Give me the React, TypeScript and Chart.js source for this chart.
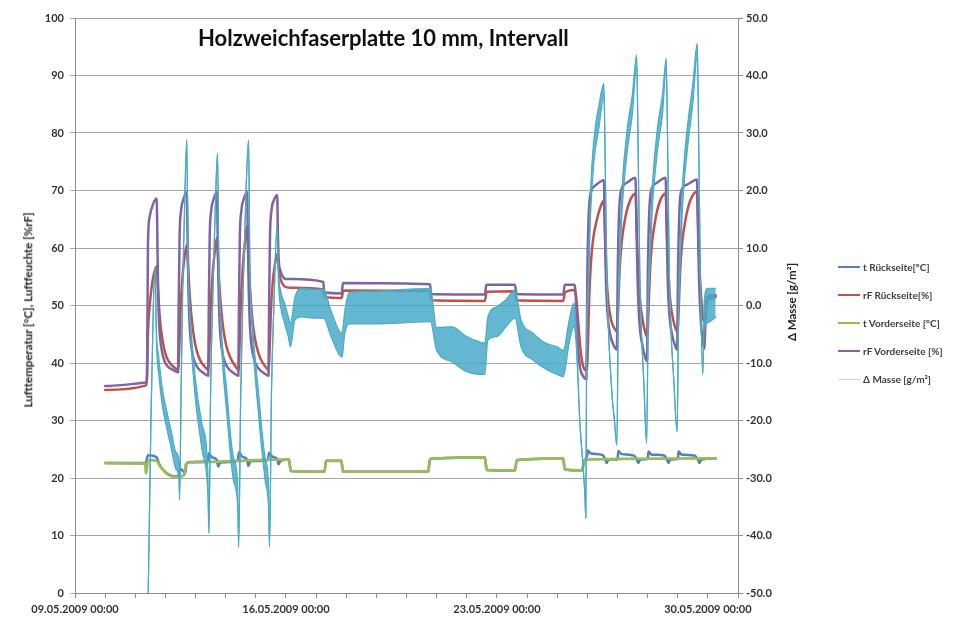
import React, { useEffect, useRef } from "react";
import { Chart, registerables } from "chart.js";

Chart.register(...registerables);

// ---------- labels ----------
const chartTitle = "Holzweichfaserplatte 10 mm, Intervall";
const leftAxisTitle = "Lufttemperatur [°C], Luftfeuchte [%rF]";
const rightAxisTitle = "\u0394 Masse [g/m\u00B2]";
const xTickLabels = ["09.05.2009 00:00", "16.05.2009 00:00", "23.05.2009 00:00", "30.05.2009 00:00"];
const seriesNames = ["t Rückseite[°C]", "rF Rückseite[%]", "t Vorderseite [°C]", "rF Vorderseite [%]", "\u0394 Masse [g/m\u00B2]"];
const seriesColors = ["#4F81BD", "#C0504D", "#9BBB59", "#8064A2", "#4BACC6"];

// x = days after 09.05.2009 00:00, y = value
const tRueckseite: [number, number][] = [
  [1.0, 22.6], [2.35, 22.6], [2.39, 23.5], [2.44, 24.0], [2.55, 23.9], [2.71, 23.6], [2.8, 22.4], [2.95, 21.3],
  [3.15, 20.5], [3.35, 20.3], [3.45, 20.6], [3.5, 21.6], [3.6, 21.1], [3.66, 20.8], [3.7, 22.5], [3.8, 22.8],
  [4.4, 22.9], [4.44, 24.3], [4.55, 23.6], [4.71, 23.1], [4.75, 22.0], [4.82, 22.7], [5.4, 23.0], [5.44, 24.5],
  [5.55, 23.7], [5.71, 23.2], [5.75, 22.1], [5.82, 22.9], [6.4, 23.1], [6.44, 24.4], [6.55, 23.7], [6.71, 23.3],
  [6.75, 22.4], [6.82, 23.0], [7.1, 23.2], [7.16, 21.2], [8.28, 21.1], [8.33, 23.0], [8.84, 23.0], [8.89, 21.1],
  [11.72, 21.1], [11.78, 23.3], [13.6, 23.6], [13.66, 21.4], [14.6, 21.3], [14.66, 23.1], [16.2, 23.4], [16.25, 21.5],
  [16.82, 21.3], [16.9, 23.0], [16.98, 23.6], [17.02, 24.8], [17.1, 24.3], [17.5, 24.0], [17.6, 23.2], [17.64, 22.6],
  [17.7, 23.2], [18.0, 23.2], [18.03, 24.7], [18.12, 24.2], [18.55, 23.9], [18.65, 23.1], [18.69, 22.6], [18.75, 23.2],
  [19.0, 23.3], [19.03, 24.6], [19.12, 24.1], [19.55, 23.9], [19.65, 23.1], [19.69, 22.6], [19.75, 23.2], [20.0, 23.3],
  [20.03, 24.6], [20.12, 24.1], [20.55, 23.9], [20.68, 23.1], [20.72, 22.6], [20.78, 23.2], [21.26, 23.4],
];

const rfRueckseite: [number, number][] = [
  [1.0, 35.3], [2.36, 36.1],
  [2.39, 37.5], [2.42, 45], [2.48, 50], [2.58, 54.5], [2.71, 56.8], [2.74, 54.5], [2.78, 50.5], [2.84, 46.5], [2.92, 43.5], [3.02, 41.3], [3.15, 40], [3.3, 39.2], [3.43, 38.8],
  [3.46, 42.5], [3.5, 49], [3.56, 54.5], [3.63, 58.3], [3.71, 60.5], [3.74, 58], [3.78, 54], [3.84, 49.5], [3.92, 45.5], [4.02, 42.5], [4.15, 40.5], [4.3, 39.4], [4.43, 38.8],
  [4.46, 42.5], [4.5, 49.5], [4.56, 55], [4.63, 59], [4.71, 61.8], [4.74, 59], [4.78, 54.5], [4.84, 50], [4.92, 46], [5.02, 43], [5.15, 41], [5.3, 39.6], [5.43, 38.8],
  [5.46, 43], [5.5, 50], [5.56, 56], [5.63, 60.5], [5.71, 63.7], [5.74, 60.5], [5.78, 55.5], [5.84, 50.5], [5.92, 46], [6.02, 43], [6.15, 40.8], [6.3, 39.5], [6.43, 38.8],
  [6.46, 42.5], [6.5, 49], [6.56, 54], [6.63, 57], [6.71, 59], [6.75, 57], [6.8, 55], [6.88, 53.8], [7.0, 53.2], [7.2, 53.1], [8.24, 52.8],
  [8.28, 51.5], [8.85, 51.3], [8.9, 52.6], [11.78, 52.5], [11.84, 50.9], [13.6, 50.8], [13.66, 52.4], [14.6, 52.5], [14.66, 50.9],
  [16.2, 50.8], [16.26, 52.3], [16.58, 52.7], [16.63, 51.5], [16.7, 47], [16.78, 42], [16.87, 39.3], [16.98, 38.7],
  [17.02, 43], [17.06, 51], [17.12, 57.5], [17.2, 61.8], [17.32, 65], [17.45, 67.3], [17.55, 68.3], [17.58, 64], [17.63, 56], [17.7, 50.5], [17.8, 47.3], [17.9, 46], [17.98, 45.5],
  [18.02, 49], [18.07, 56], [18.14, 61], [18.25, 65], [18.4, 68], [18.6, 69.5], [18.63, 65], [18.68, 57], [18.75, 51], [18.85, 47], [18.93, 45.2], [18.99, 44.5],
  [19.03, 49], [19.08, 56], [19.15, 61], [19.26, 65], [19.4, 68], [19.6, 69.5], [19.63, 65], [19.68, 57], [19.75, 51], [19.85, 47.5], [19.93, 46], [19.99, 45.5],
  [20.03, 49], [20.08, 56], [20.15, 61], [20.26, 65], [20.42, 68.3], [20.64, 69.8], [20.67, 65], [20.72, 57], [20.79, 50.5], [20.86, 47.3], [20.91, 48], [20.96, 50.5], [21.1, 51.2], [21.26, 51.5],
];

const tVorderseite: [number, number][] = [
  [1.0, 22.6], [2.33, 22.5], [2.35, 20.8], [2.38, 21.5], [2.42, 22.9], [2.55, 23.1], [2.71, 23.0], [2.8, 22.2],
  [2.95, 21.2], [3.15, 20.4], [3.35, 20.2], [3.55, 20.3], [3.63, 20.7], [3.68, 22.4], [3.8, 22.7], [4.5, 22.8],
  [5.5, 23.0], [6.5, 23.2], [7.1, 23.2], [7.16, 21.2], [8.28, 21.1], [8.33, 23.0], [8.84, 23.0], [8.89, 21.1],
  [11.72, 21.1], [11.78, 23.3], [13.6, 23.6], [13.66, 21.4], [14.6, 21.3], [14.66, 23.1], [16.2, 23.4], [16.25, 21.5],
  [16.82, 21.3], [16.92, 23.2], [21.26, 23.4],
];

const rfVorderseite: [number, number][] = [
  [1.0, 36.0], [2.36, 36.6],
  [2.39, 38], [2.42, 60.5], [2.48, 65.5], [2.58, 67.5], [2.71, 68.6], [2.73, 63], [2.76, 52], [2.8, 46], [2.87, 42.5], [2.97, 40.3], [3.1, 39.3], [3.25, 38.8], [3.42, 38.4],
  [3.44, 50], [3.47, 62], [3.52, 66.5], [3.6, 68.5], [3.71, 69.8], [3.73, 64], [3.76, 54], [3.8, 47], [3.87, 42.5], [3.97, 40.2], [4.1, 39], [4.25, 38.3], [4.42, 37.8],
  [4.44, 50], [4.47, 62], [4.52, 66.5], [4.6, 68.5], [4.71, 69.8], [4.73, 64], [4.76, 54], [4.8, 47], [4.87, 42.5], [4.97, 40.2], [5.1, 39], [5.25, 38.3], [5.42, 37.8],
  [5.44, 50], [5.47, 62], [5.52, 66.5], [5.6, 68.5], [5.71, 69.8], [5.73, 64], [5.76, 54], [5.8, 47], [5.87, 42.5], [5.97, 40.2], [6.1, 39], [6.25, 38.3], [6.42, 37.8],
  [6.44, 50], [6.47, 62], [6.52, 66.5], [6.6, 68.3], [6.71, 69.2], [6.73, 63], [6.76, 58], [6.82, 56], [6.9, 55], [7.0, 54.6], [7.2, 54.6], [8.24, 54.1],
  [8.27, 52.3], [8.85, 52.1], [8.89, 53.9], [11.78, 53.7], [11.82, 52.0], [13.6, 51.9], [13.65, 53.6], [14.6, 53.6], [14.65, 52.0],
  [16.2, 51.9], [16.25, 53.6], [16.58, 53.6], [16.63, 50], [16.68, 44], [16.75, 39.5], [16.85, 37.8], [16.97, 37.2],
  [17.0, 55], [17.04, 65], [17.1, 69.3], [17.25, 70.8], [17.55, 71.8], [17.58, 64], [17.62, 54], [17.68, 48], [17.78, 44.5], [17.9, 42.8], [17.98, 42.3],
  [18.01, 56], [18.05, 65.5], [18.11, 69.8], [18.3, 71.3], [18.6, 72.2], [18.63, 64], [18.67, 54], [18.73, 47], [18.83, 43], [18.92, 41], [18.98, 40.3],
  [19.01, 56], [19.05, 65.5], [19.11, 69.8], [19.3, 71.3], [19.6, 72.2], [19.63, 64], [19.67, 54], [19.73, 48], [19.83, 44.5], [19.93, 42.8], [19.98, 42.3],
  [20.01, 56], [20.05, 65.5], [20.11, 69.8], [20.3, 71.0], [20.64, 71.9], [20.67, 64], [20.71, 54], [20.77, 47], [20.84, 43.5], [20.88, 42.5], [20.92, 47], [20.96, 51.2], [21.1, 51.7], [21.26, 51.8],
];

// [day, lower edge, upper edge] of the (noisy) mass-change trace, right axis
const masseBand: [number, number, number][] = [
  [2.43, -50, -50], [2.52, -20, -20], [2.6, 0, 0], [2.66, 6.7, 6.7],
  [2.7, -6, -4], [2.78, -12, -9], [2.9, -17.5, -14.5], [3.05, -21.5, -18.5], [3.2, -25, -22], [3.35, -28.5, -25.5], [3.45, -30, -27], [3.47, -33.8, -33.8],
  [3.52, -15, -15], [3.58, 5, 5], [3.65, 20, 20], [3.71, 28.8, 28.8],
  [3.75, 8, 8], [3.82, -3.5, -1.5], [3.99, -16, -12.5], [4.21, -25, -20.5], [4.41, -33, -29], [4.445, -39.6, -39.6],
  [4.5, -15, -15], [4.58, 3, 3], [4.66, 18, 18], [4.73, 26.5, 26.5],
  [4.77, 8, 8], [4.83, -3.5, -1.5], [5.04, -19, -15], [5.26, -30.5, -26.5], [5.4, -35, -31], [5.43, -42, -42],
  [5.5, -15, -15], [5.58, 3, 3], [5.67, 19, 19], [5.76, 28.8, 28.8],
  [5.8, 8, 8], [5.87, -3.5, -1.5], [6.09, -19, -15], [6.31, -30.5, -26.5], [6.42, -35, -31], [6.455, -42, -42],
  [6.52, -15, -15], [6.6, 0, 0], [6.7, 13.7, 13.7],
  [6.75, 4, 6], [6.85, -1, 2], [6.95, -3, 0.5], [7.08, -5.5, -2], [7.15, -7.2, -3], [7.3, -2.5, 1.5], [7.5, -2, 3], [8.0, -2.2, 2.8], [8.25, -2.2, 2.8],
  [8.5, -5.5, -1], [8.86, -9, -4.8],
  [8.95, -5, -1], [9.1, -3.2, 2.3], [10.0, -3.2, 2.5], [11.0, -3, 2.8], [11.79, -2.8, 3.0],
  [12.0, -7.8, -3.8], [12.5, -9.8, -3.7], [13.0, -11.5, -5.4], [13.6, -12, -6.5],
  [13.7, -6, -2], [14.0, -5.4, -0.2], [14.3, -3.7, 1.0], [14.6, -2.2, 2.7],
  [14.8, -7.2, -2.5], [15.2, -9.5, -4.8], [15.6, -11, -6.5], [16.0, -12, -7.2], [16.2, -12.4, -7.8],
  [16.4, -6.5, -2.5], [16.55, -3.7, 0.4],
  [16.62, -6, -3], [16.75, -20, -20], [16.92, -33, -33], [16.95, -37, -37],
  [16.98, -5, -5], [17.02, 0, 3], [17.11, 16, 20], [17.22, 25, 29], [17.39, 31, 35], [17.55, 36.5, 38.6],
  [17.58, 30, 30], [17.65, 5, 5], [17.8, -14, -14], [17.9, -20, -20], [17.98, -24.3, -24.3],
  [18.03, -2, 2], [18.08, 7, 11], [18.16, 17, 21], [18.33, 27, 31], [18.49, 33, 36.5], [18.64, 41.5, 43.6],
  [18.67, 34, 34], [18.74, 6, 6], [18.88, -14, -14], [18.97, -24, -24],
  [19.02, -2, 2], [19.08, 7, 11], [19.16, 17, 21], [19.33, 27, 31], [19.49, 33, 36.5], [19.62, 41, 43],
  [19.65, 34, 34], [19.72, 6, 6], [19.88, -14, -14], [19.98, -22, -22],
  [20.03, -2, 2], [20.09, 8, 12], [20.17, 18, 22], [20.34, 28, 32], [20.5, 35, 38.5], [20.65, 43.5, 45.6],
  [20.68, 36, 36], [20.75, 5, 5], [20.83, -12, -12],
  [20.88, -4, 1], [21.0, -3, 3], [21.15, -2.5, 3], [21.26, -2, 3],
];

const xMin = 0;
const xMax = 22;
const leftMin = 0;
const leftMax = 100;
const rightMin = -50;
const rightMax = 50;

const tickFont = { family: "Lato, 'Open Sans', sans-serif", size: 11, weight: "bold" as const };
const tickColor = "#333333";
const axisGray = "#8c8c8c";
const gridGray = "#a6a6a6";

const pts = (arr: [number, number][]) => arr.map(([x, y]) => ({ x, y }));

export default function App() {
  const ref = useRef<HTMLCanvasElement>(null);

  useEffect(() => {
    if (!ref.current) return;
    const cyan = seriesColors[4];
    const chart = new Chart(ref.current, {
      type: "line",
      data: {
        datasets: [
          { label: seriesNames[0], data: pts(tRueckseite), borderColor: seriesColors[0], borderWidth: 2.5, yAxisID: "y", order: 5 },
          { label: seriesNames[1], data: pts(rfRueckseite), borderColor: seriesColors[1], borderWidth: 2.5, yAxisID: "y", order: 4 },
          { label: seriesNames[2], data: pts(tVorderseite), borderColor: seriesColors[2], borderWidth: 2.75, yAxisID: "y", order: 3 },
          { label: seriesNames[3], data: pts(rfVorderseite), borderColor: seriesColors[3], borderWidth: 2.5, yAxisID: "y", order: 2 },
          {
            label: seriesNames[4] + " hi",
            data: masseBand.map(([x, , h]) => ({ x, y: h })),
            borderColor: cyan, borderWidth: 1.2, yAxisID: "y2", order: 1, fill: false,
          },
          {
            label: seriesNames[4],
            data: masseBand.map(([x, l]) => ({ x, y: l })),
            borderColor: cyan, borderWidth: 1.2, yAxisID: "y2", order: 0,
            fill: "-1", backgroundColor: "rgba(72,170,200,0.85)",
          },
        ] as any,
      },
      options: {
        responsive: false,
        animation: false,
        devicePixelRatio: 1,
        layout: { padding: { top: 18, left: 0, right: 0, bottom: 0 } },
        elements: {
          point: { radius: 0 },
          line: { tension: 0, cubicInterpolationMode: "monotone", borderCapStyle: "round", borderJoinStyle: "round" },
        },
        plugins: { legend: { display: false }, tooltip: { enabled: false }, title: { display: false } },
        scales: {
          x: {
            type: "linear",
            min: xMin,
            max: xMax,
            afterFit: (s: any) => { s.height = 32; },
            ticks: {
              stepSize: 1,
              autoSkip: false,
              maxRotation: 0,
              minRotation: 0,
              padding: 5,
              font: tickFont,
              color: tickColor,
              callback: (v: any) => (Number(v) % 7 === 0 ? xTickLabels[Number(v) / 7] ?? "" : ""),
            },
            grid: { drawOnChartArea: false, drawTicks: true, tickLength: 5, color: axisGray },
            border: { display: true, color: axisGray, width: 1 },
          },
          y: {
            position: "left",
            min: leftMin,
            max: leftMax,
            afterFit: (s: any) => { s.width = 75; },
            ticks: { stepSize: 10, padding: 6, font: tickFont, color: tickColor },
            grid: { color: gridGray, lineWidth: 1, drawTicks: true, tickLength: 5 },
            border: { display: true, color: axisGray, width: 1 },
          },
          y2: {
            position: "right",
            min: rightMin,
            max: rightMax,
            afterFit: (s: any) => { s.width = 218; },
            ticks: {
              stepSize: 10, padding: 3, font: tickFont, color: tickColor,
              callback: (v: any) => Number(v).toFixed(1),
            },
            grid: { drawOnChartArea: false, drawTicks: true, tickLength: 5, color: axisGray },
            border: { display: true, color: axisGray, width: 1 },
          },
        },
      } as any,
    });
    return () => chart.destroy();
  }, []);

  const legendTops = [267, 295, 323, 351, 379];
  const legendWidths = [2.5, 2.5, 2.5, 2.5, 1];
  const legendColors = [seriesColors[0], seriesColors[1], seriesColors[2], seriesColors[3], "#b5dde8"];

  return (
    <div
      style={{
        position: "absolute", left: 0, top: 0, width: 956, height: 625, overflow: "hidden",
        background: "#ffffff", fontFamily: "Lato, 'Open Sans', sans-serif",
      }}
    >
      <canvas ref={ref} width={956} height={625} style={{ position: "absolute", left: 0, top: 0 }} />
      <div
        style={{
          position: "absolute", left: 198, top: 27, fontSize: 22, lineHeight: 1, fontWeight: 700,
          color: "#111", whiteSpace: "nowrap",
        }}
      >
        {chartTitle}
      </div>
      <div
        style={{
          position: "absolute", left: 28, top: 310, transform: "translate(-50%, -50%) rotate(-90deg)",
          fontSize: 11.5, fontWeight: 700, color: "#222", whiteSpace: "nowrap", lineHeight: 1,
        }}
      >
        {leftAxisTitle}
      </div>
      <div
        style={{
          position: "absolute", left: 792, top: 302, transform: "translate(-50%, -50%) rotate(-90deg)",
          fontSize: 11.5, fontWeight: 700, color: "#222", whiteSpace: "nowrap", lineHeight: 1,
        }}
      >
        {rightAxisTitle}
      </div>
      {seriesNames.map((name, i) => (
        <div
          key={name}
          style={{
            position: "absolute", left: 838, top: legendTops[i] - 7, height: 14, display: "flex",
            alignItems: "center", whiteSpace: "nowrap",
          }}
        >
          <div style={{ width: 22, height: legendWidths[i], background: legendColors[i], marginRight: 3 }} />
          <span style={{ fontSize: 10, fontWeight: 700, color: "#404040" }}>{name}</span>
        </div>
      ))}
    </div>
  );
}
